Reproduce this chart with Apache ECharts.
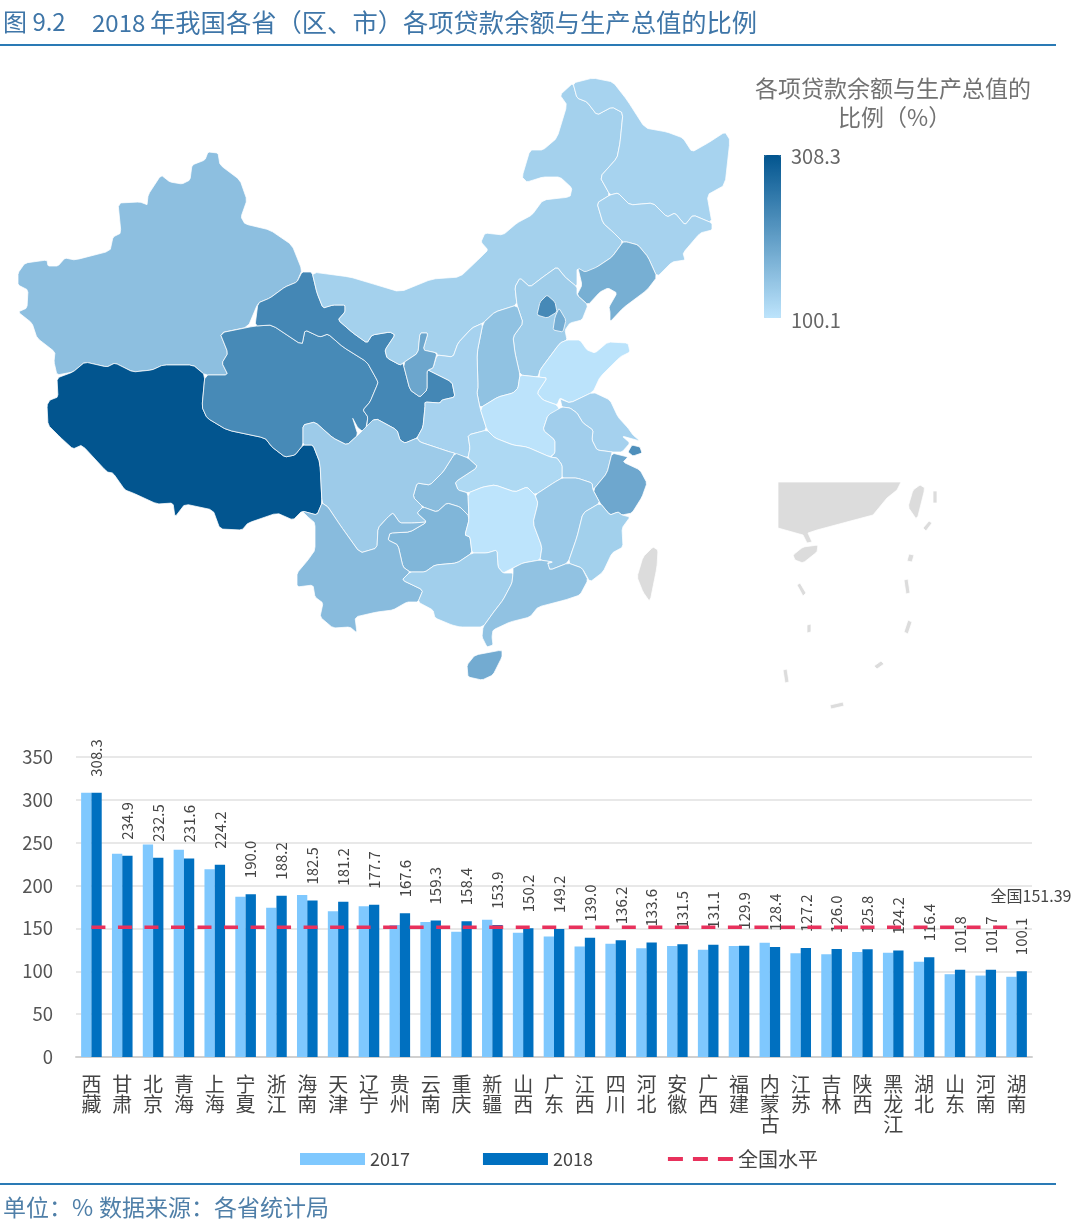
<!DOCTYPE html>
<html>
<head>
<meta charset="utf-8">
<style>html,body{margin:0;padding:0;background:#fff}#chart{width:1080px;height:1230px}</style>
<script src="https://cdn.jsdelivr.net/npm/echarts@6/dist/echarts.min.js"></script>
</head>
<body>
<div id="chart"></div>
<script>
// bar chart data
const categories = ['西藏','甘肃','北京','青海','上海','宁夏','浙江','海南','天津','辽宁','贵州','云南','重庆','新疆','山西','广东','江西','四川','河北','安徽','广西','福建','内蒙古','江苏','吉林','陕西','黑龙江','湖北','山东','河南','湖南'];
const values2017 = [308.3,237,247.8,241.9,219,187,174,189,170,176,154,157.6,146,160,145,140.5,128.8,132,126.8,129.5,125,129.5,133.4,121,120,122.5,121.7,111,96.6,95,93.6];
const values2018 = [308.3,234.9,232.5,231.6,224.2,190.0,188.2,182.5,181.2,177.7,167.6,159.3,158.4,153.9,150.2,149.2,139.0,136.2,133.6,131.5,131.1,129.9,128.4,127.2,126.0,125.8,124.2,116.4,101.8,101.7,100.1];
const national = 151.39;
const nationalValues = categories.map(() => national);
const mapMin = 100.1;
const mapMax = 308.3;

// hand traced outlines for the map (page pixels, drawn in this order)
const outlines = {
  '新疆': [[18,273],[25,263],[47,260],[48,266],[58,266],[65,258],[75,260],[110,251],[113,237],[121,233],[118,203],[140,202],[148,205],[148,195],[161,175],[170,182],[182,184],[190,180],[192,165],[205,160],[208,152],[218,153],[220,165],[240,180],[247,200],[241,217],[245,224],[270,230],[292,245],[302,270],[297,282],[285,287],[270,298],[258,303],[248,327],[220,333],[228,353],[222,363],[228,375],[205,375],[193,365],[163,365],[152,370],[133,372],[115,363],[107,367],[85,362],[73,372],[57,375],[54,362],[55,352],[37,338],[32,323],[18,312],[27,308],[28,290],[18,285]],
  '西藏': [[57,378],[73,372],[85,362],[107,367],[115,363],[133,372],[152,370],[163,365],[193,365],[205,375],[202,407],[207,418],[227,430],[265,438],[272,447],[285,457],[295,455],[303,445],[313,445],[320,463],[322,503],[317,515],[302,511],[293,520],[277,513],[248,523],[242,530],[220,529],[213,510],[185,504],[175,517],[173,503],[157,504],[133,493],[125,490],[113,473],[107,472],[82,445],[73,449],[60,437],[48,425],[47,405],[50,400],[58,397]],
  '青海': [[220,333],[255,326],[272,325],[302,345],[305,330],[320,337],[328,334],[343,347],[367,362],[377,380],[378,383],[370,402],[363,410],[368,417],[365,433],[358,428],[352,417],[358,435],[347,445],[333,438],[315,422],[303,425],[303,445],[295,455],[285,457],[272,447],[265,438],[227,430],[207,418],[202,407],[205,375],[228,375],[222,363],[228,353]],
  '甘肃': [[302,272],[312,272],[317,293],[323,308],[333,305],[345,305],[345,312],[338,320],[353,333],[367,343],[372,335],[390,332],[395,335],[385,350],[387,358],[400,365],[403,363],[410,390],[420,397],[427,390],[427,372],[428,370],[452,382],[455,397],[442,400],[440,403],[425,402],[425,407],[423,427],[417,438],[405,443],[400,440],[397,430],[375,418],[365,433],[368,417],[363,410],[370,402],[378,383],[377,380],[367,362],[343,347],[328,334],[320,337],[305,330],[302,345],[272,325],[255,326],[258,303],[270,298],[285,287],[297,282]],
  '内蒙古': [[312,272],[350,277],[370,283],[400,292],[432,279],[460,277],[480,258],[488,250],[481,242],[485,233],[503,235],[517,223],[532,215],[543,200],[570,197],[572,188],[560,177],[543,177],[527,182],[522,177],[530,150],[543,150],[557,138],[567,105],[560,95],[573,83],[577,98],[587,102],[597,115],[612,107],[623,113],[620,143],[617,158],[600,177],[610,195],[597,203],[603,223],[613,232],[623,242],[612,257],[597,267],[582,277],[577,268],[577,287],[565,277],[557,267],[543,277],[530,287],[520,278],[515,287],[517,305],[495,312],[483,323],[472,328],[458,343],[453,357],[437,355],[437,353],[423,350],[428,333],[420,333],[418,353],[403,363],[400,365],[387,358],[385,350],[395,335],[390,332],[372,335],[367,343],[353,333],[338,320],[345,312],[345,305],[333,305],[323,308],[317,293]],
  '黑龙江': [[573,83],[593,78],[613,82],[627,100],[645,128],[667,132],[683,138],[692,152],[708,143],[725,132],[730,140],[725,185],[707,195],[712,223],[693,215],[685,225],[675,213],[667,217],[653,203],[630,205],[618,193],[610,195],[600,177],[617,158],[620,143],[623,113],[612,107],[597,115],[587,102],[577,98]],
  '吉林': [[597,203],[610,195],[618,193],[630,205],[653,203],[667,217],[675,213],[685,225],[693,215],[712,223],[712,230],[700,233],[683,253],[685,260],[672,262],[657,277],[648,257],[638,245],[627,242],[623,242],[613,232],[603,223]],
  '辽宁': [[623,242],[627,242],[638,245],[648,257],[657,277],[647,290],[623,308],[610,322],[610,312],[609,307],[617,293],[608,288],[600,292],[588,305],[577,295],[582,285],[578,268],[585,272],[597,267],[612,257]],
  '河北': [[517,305],[515,287],[520,278],[530,287],[543,277],[557,267],[565,277],[577,287],[577,295],[588,305],[582,320],[570,323],[565,330],[567,340],[560,343],[540,370],[538,377],[520,375],[515,353],[513,337],[523,323]],
  '山西': [[495,312],[517,305],[523,323],[513,337],[515,353],[520,375],[518,388],[513,393],[498,397],[480,408],[477,393],[478,387],[477,353],[483,323]],
  '陕西': [[437,355],[453,357],[458,343],[472,328],[483,323],[477,353],[478,387],[477,393],[480,408],[487,430],[468,435],[470,448],[468,458],[450,452],[438,448],[420,442],[417,438],[423,427],[425,407],[425,402],[440,403],[442,400],[455,397],[452,382],[428,370],[433,368]],
  '山东': [[540,370],[560,343],[567,340],[580,340],[587,350],[595,353],[608,342],[628,343],[630,352],[620,357],[600,377],[593,392],[570,403],[560,398],[557,405],[543,400],[537,393],[547,378],[538,377]],
  '河南': [[480,408],[498,397],[513,393],[518,388],[520,375],[538,377],[547,378],[537,393],[543,400],[557,405],[562,415],[548,415],[543,430],[555,440],[555,453],[550,457],[527,447],[513,445],[495,438],[487,430]],
  '江苏': [[593,392],[610,400],[618,417],[628,428],[633,435],[640,441],[622,436],[630,443],[622,452],[612,452],[597,450],[592,440],[593,430],[583,423],[577,413],[570,408],[562,407],[560,398],[570,403]],
  '安徽': [[548,415],[562,407],[570,408],[577,413],[583,423],[593,430],[592,440],[597,450],[612,452],[612,453],[607,473],[593,490],[592,483],[577,478],[562,478],[562,465],[557,458],[550,457],[555,453],[555,440],[543,430]],
  '浙江': [[612,453],[628,457],[623,462],[640,470],[647,483],[642,497],[632,513],[622,515],[618,512],[610,515],[600,503],[593,490],[607,473]],
  '上海': [[632,445],[640,447],[642,453],[633,456],[628,452]],
  '湖北': [[468,435],[487,430],[495,438],[513,445],[527,447],[550,457],[557,458],[562,465],[562,478],[555,482],[535,495],[527,487],[515,492],[495,485],[483,487],[468,493],[458,490],[455,482],[478,467],[468,458],[470,448]],
  '重庆': [[455,453],[468,458],[478,467],[455,482],[458,490],[468,493],[469,520],[468,515],[460,507],[447,503],[437,512],[423,507],[413,497],[417,483],[430,485],[443,472]],
  '四川': [[303,425],[315,422],[333,438],[347,445],[358,435],[375,418],[397,430],[400,440],[405,443],[417,438],[420,442],[438,448],[450,452],[455,453],[443,472],[430,485],[417,483],[413,497],[423,507],[417,513],[427,522],[413,523],[400,523],[393,513],[388,517],[378,528],[377,548],[360,553],[340,525],[328,507],[322,503],[320,463],[313,445],[303,445]],
  '贵州': [[447,503],[460,507],[468,515],[469,520],[465,535],[470,537],[472,553],[457,563],[435,565],[425,572],[410,572],[403,567],[398,545],[388,540],[390,533],[410,532],[427,522],[417,513],[423,507],[437,512]],
  '云南': [[302,511],[317,515],[322,503],[328,507],[340,525],[360,553],[377,548],[378,528],[388,517],[393,513],[400,523],[413,523],[427,522],[410,532],[390,533],[388,540],[398,545],[403,567],[410,572],[402,580],[423,590],[418,602],[407,602],[393,610],[377,612],[355,617],[357,633],[350,627],[333,628],[320,617],[323,603],[315,597],[313,585],[297,587],[297,573],[308,560],[315,550],[315,523],[308,517]],
  '湖南': [[468,493],[483,487],[495,485],[515,492],[527,487],[535,495],[538,503],[533,523],[542,547],[540,560],[523,563],[513,568],[503,573],[498,567],[497,550],[487,553],[472,553],[470,537],[465,535],[469,520]],
  '江西': [[535,495],[555,482],[562,478],[577,478],[592,483],[593,490],[600,503],[583,513],[577,537],[568,563],[550,570],[547,563],[553,562],[540,560],[542,547],[533,523],[538,503]],
  '福建': [[600,503],[610,515],[618,512],[622,515],[630,517],[622,528],[623,547],[612,553],[603,572],[590,582],[582,568],[568,563],[577,537],[583,513]],
  '广西': [[402,580],[410,572],[425,572],[435,565],[457,563],[472,553],[487,553],[497,550],[498,567],[503,573],[513,573],[512,583],[503,600],[493,613],[483,627],[460,627],[452,625],[435,618],[433,610],[418,602],[423,590]],
  '广东': [[513,573],[513,568],[523,563],[540,560],[553,562],[547,563],[550,570],[568,563],[582,568],[588,580],[580,595],[565,600],[538,607],[530,617],[510,622],[493,630],[492,637],[493,645],[487,647],[482,637],[483,627],[493,613],[503,600],[512,583]],
  '海南': [[475,655],[502,650],[502,657],[493,675],[482,680],[468,677],[467,665]],
  '宁夏': [[420,333],[428,333],[423,350],[437,353],[433,368],[428,370],[427,372],[427,390],[420,397],[410,390],[403,363],[418,353]],
  '北京': [[547,295],[555,302],[557,312],[547,318],[537,315],[540,302]],
  '天津': [[559,308],[566,320],[563,332],[553,330],[555,317]],
  '台湾': [[653,547],[658,550],[657,567],[650,602],[643,592],[637,577],[643,557]],
  // south china sea inset
  '华南': [[778,482],[901,482],[897,490],[887,498],[873,515],[843,523],[817,530],[808,533],[812,542],[807,543],[803,535],[778,528]],
  '海南岛': [[793,555],[803,547],[818,545],[817,552],[803,563],[795,560]],
  '台湾岛': [[920,485],[925,488],[917,520],[908,507],[913,490]],
  'd1': [[933,491],[937,491],[937,503],[933,503]],
  'd2': [[923,528],[929,521],[932,523],[926,531]],
  'd3': [[907,561],[909,554],[914,555],[912,562]],
  'd4': [[904,580],[908,579],[910,593],[906,594]],
  'd5': [[904,632],[908,620],[912,622],[908,634]],
  'd6': [[874,666],[881,661],[884,664],[877,669]],
  'd7': [[830,705],[843,702],[844,706],[831,709]],
  'd8': [[783,670],[787,669],[789,682],[785,683]],
  'd9': [[807,625],[811,624],[811,632],[807,633]],
  'd10': [[797,585],[800,583],[806,593],[803,596]]
};

// rounds the traced corners a bit so the provinces look less angular
function soften(ring) {
  const out = [];
  ring.forEach((p, i) => {
    const q = ring[(i + 1) % ring.length];
    out.push([p[0] * 0.88 + q[0] * 0.12, p[1] * 0.88 + q[1] * 0.12]);
    out.push([p[0] * 0.12 + q[0] * 0.88, p[1] * 0.12 + q[1] * 0.88]);
  });
  return out;
}

const features = Object.keys(outlines).map(name => {
  const ring = name === '华南' || name[0] === 'd' ? outlines[name] : soften(outlines[name]);
  return {
    type: 'Feature',
    properties: { name: name },
    geometry: { type: 'Polygon', coordinates: [ring.concat([ring[0]])] }
  };
});
echarts.registerMap('cnProvinces', { type: 'FeatureCollection', features: features });

const allPts = features.flatMap(f => f.geometry.coordinates[0]);
const minX = Math.min(...allPts.map(p => p[0]));
const maxX = Math.max(...allPts.map(p => p[0]));
const minY = Math.min(...allPts.map(p => p[1]));
const maxY = Math.max(...allPts.map(p => p[1]));

const FONT = '"Noto Sans CJK SC"';
const titleBlue = '#3f76a8';
const mapLow = '#bde4fc';
const mapHigh = '#02558f';

function txt(text, left, top, size, color) {
  return { text: text, left: left, top: top, padding: 0, textStyle: { fontFamily: FONT, fontSize: size, fontWeight: 'normal', color: color } };
}

const chart = echarts.init(document.getElementById('chart'), null, { renderer: 'canvas' });
chart.setOption({
  animation: false,
  backgroundColor: '#fff',
  title: [
    txt('图 9.2', 3, 10, 24, titleBlue),
    txt('2018', 92, 11, 24, titleBlue),
    txt('年我国各省（区、市）各项贷款余额与生产总值的比例', 150, 10, 25.3, titleBlue),
    txt('各项贷款余额与生产总值的', 755, 77, 23, '#727272'),
    txt('比例（%）', 838, 106, 23, '#727272'),
    txt(mapMax.toFixed(1), 791, 146, 20, '#666'),
    txt(mapMin.toFixed(1), 791, 310, 20, '#666'),
    txt('单位：%', 3, 1196, 23, '#4f7fa8'),
    txt('数据来源：各省统计局', 99, 1196, 23, '#4f7fa8')
  ],
  graphic: [
    { type: 'rect', shape: { x: 0, y: 44, width: 1056, height: 2 }, style: { fill: '#2a7ab5' } },
    { type: 'rect', shape: { x: 0, y: 1183, width: 1056, height: 2 }, style: { fill: '#2a7ab5' } },
    // visualMap clips its bar to round corners, the reference has square ones
    { type: 'rect', shape: { x: 764, y: 155, width: 17, height: 4 }, style: { fill: mapHigh } },
    { type: 'rect', shape: { x: 764, y: 314, width: 17, height: 4 }, style: { fill: mapLow } }
  ],
  visualMap: {
    type: 'continuous',
    seriesIndex: 0,
    min: mapMin,
    max: mapMax,
    left: 764,
    top: 155,
    itemWidth: 17,
    itemHeight: 163,
    padding: 0,
    calculable: false,
    text: null,
    showLabel: false,
    inRange: { color: [mapLow, mapHigh] }
  },
  legend: {
    left: 300,
    top: 1149,
    itemWidth: 65,
    itemHeight: 12,
    itemGap: 73,
    padding: 0,
    data: [
      { name: '2017', icon: 'rect' },
      { name: '2018', icon: 'rect' },
      {
        name: '全国水平',
        itemStyle: { opacity: 0 },
        lineStyle: { width: 4, type: [15, 10], color: '#e8315c' },
        textStyle: { fontSize: 20 }
      }
    ],
    textStyle: { fontFamily: FONT, fontSize: 18, color: '#444' }
  },
  grid: { left: 76, right: 48, top: 757, bottom: 173 },
  xAxis: {
    type: 'category',
    data: categories,
    axisTick: { show: false },
    axisLine: { lineStyle: { color: '#d0d0d0', width: 2 } },
    axisLabel: {
      interval: 0,
      margin: 17,
      fontFamily: FONT,
      fontSize: 20,
      lineHeight: 20,
      color: '#444',
      formatter: v => v.split('').join('\n')
    }
  },
  yAxis: {
    type: 'value',
    min: 0,
    max: 350,
    interval: 50,
    axisLine: { show: false },
    axisTick: { show: false },
    splitLine: { lineStyle: { color: '#e0e0e0', width: 1.5 } },
    axisLabel: { margin: 23, fontFamily: FONT, fontSize: 18.5, color: '#555' }
  },
  series: [
    {
      type: 'map',
      map: 'cnProvinces',
      projection: { project: p => p, unproject: p => p },
      aspectScale: 1,
      roam: false,
      silent: true,
      showLegendSymbol: false,
      left: minX,
      top: minY,
      width: maxX - minX,
      height: maxY - minY,
      label: { show: false },
      itemStyle: { areaColor: '#dcdcdc', borderColor: 'rgba(255,255,255,0.75)', borderWidth: 1 },
      data: categories.map((c, i) => ({ name: c, value: values2018[i] }))
    },
    {
      name: '2017',
      type: 'bar',
      data: values2017,
      barWidth: 10.3,
      barGap: 0,
      itemStyle: { color: '#7fc8fe' }
    },
    {
      name: '2018',
      type: 'bar',
      data: values2018,
      barWidth: 10.3,
      itemStyle: { color: '#0070c0' },
      label: {
        show: true,
        position: 'top',
        rotate: 90,
        align: 'left',
        verticalAlign: 'middle',
        distance: 16,
        fontFamily: FONT,
        fontSize: 15,
        color: '#444',
        formatter: p => p.value.toFixed(1)
      }
    },
    {
      name: '全国水平',
      type: 'line',
      data: nationalValues,
      symbol: 'none',
      silent: true,
      lineStyle: { color: '#e8315c', width: 3.5, type: [14, 12.52] },
      itemStyle: { color: '#e8315c' },
      endLabel: {
        show: true,
        formatter: '全国' + national,
        fontFamily: FONT,
        fontSize: 16,
        color: '#444',
        offset: [-34, -31]
      }
    }
  ]
});
</script>
</body>
</html>
